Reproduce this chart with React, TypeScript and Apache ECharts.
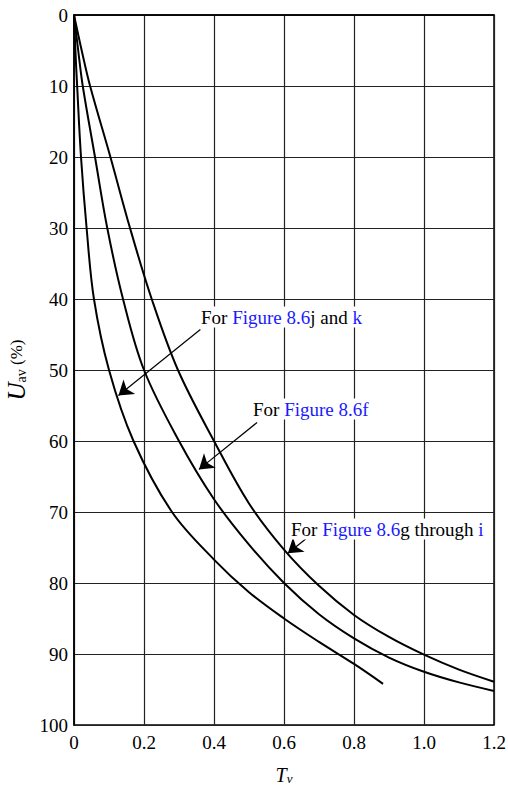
import React, { useEffect, useRef } from 'react';
import * as echarts from 'echarts';

// Curve "For Figure 8.6j and k" (T_v, U in %)
const tJK = [0, 0.004, 0.009, 0.02, 0.036, 0.057, 0.1, 0.17, 0.28, 0.4, 0.5, 0.6, 0.7, 0.8, 0.883];
const uJK = [0, 5, 10, 20, 30, 40, 50, 60, 70, 76.7, 81.3, 85.0, 88.3, 91.4, 94.2];

// Curve "For Figure 8.6f"
const tF = [0, 0.012, 0.025, 0.06, 0.095, 0.14, 0.2, 0.3, 0.4, 0.5, 0.6, 0.7, 0.8, 0.9, 1.0, 1.1, 1.2];
const uF = [0, 5, 10, 20, 30, 40, 50, 60, 68.2, 74.6, 80, 84.4, 87.8, 90.5, 92.5, 94, 95.2];

// Curve "For Figure 8.6g through i"
const tGI = [0, 0.022, 0.046, 0.104, 0.16, 0.222, 0.297, 0.4, 0.5, 0.6, 0.7, 0.8, 0.9, 1.0, 1.1, 1.2];
const uGI = [0, 5, 10, 20, 30, 40, 50, 60, 68.8, 75.3, 80.4, 84.5, 87.6, 90.1, 92.2, 93.9];

// Annotation arrows [T, U] tail -> head
const arrowTails = [[0.361, 44.3], [0.523, 57.4], [0.662, 73.8]];
const arrowHeads = [[0.127, 53.6], [0.357, 64.0], [0.611, 75.8]];

const xTickLabels = ['0', '0.2', '0.4', '0.6', '0.8', '1.0', '1.2'];
const yTickLabels = ['0', '10', '20', '30', '40', '50', '60', '70', '80', '90', '100'];

const SERIF = '"Liberation Serif", "Times New Roman", serif';
const BLUE = '#1a1aff';

export default function App() {
  const ref = useRef<HTMLDivElement>(null);

  useEffect(() => {
    const chart = echarts.init(ref.current!, null, { renderer: 'svg' });
    const pair = (t: number[], u: number[]) => t.map((v, i) => [v, u[i]]);
    const curve = (name: string, t: number[], u: number[], extra: any = {}) => ({
      name,
      type: 'line',
      data: pair(t, u),
      showSymbol: false,
      smooth: 0.35,
      silent: true,
      lineStyle: { color: '#000', width: 2 },
      z: 5,
      ...extra,
    });

    const kTok = { fill: '#000', fontFamily: SERIF, fontSize: 19 };
    const bTok = { fill: BLUE, fontFamily: SERIF, fontSize: 19 };
    const note = (x: number, y: number, text: string) => ({
      type: 'text',
      x,
      y,
      z: 20,
      style: {
        text,
        verticalAlign: 'middle',
        align: 'left',
        backgroundColor: '#fff',
        padding: [1, 2, 1, 2],
        rich: { k: kTok, b: bTok },
        fontFamily: SERIF,
        fontSize: 19,
        fill: '#000',
      },
    });

    chart.setOption({
      animation: false,
      backgroundColor: '#fff',
      grid: {
        left: 74,
        top: 15,
        width: 420,
        height: 710,
        outerBoundsMode: 'none',
        containLabel: false,
        show: true,
        borderColor: '#000',
        borderWidth: 1.5,
        backgroundColor: 'transparent',
      },
      xAxis: {
        type: 'value',
        min: 0,
        max: 1.2,
        interval: 0.2,
        name: '{t|T}{s|v}',
        nameLocation: 'middle',
        nameGap: 40,
        nameTextStyle: {
          rich: {
            t: { fontFamily: SERIF, fontSize: 20, fontStyle: 'italic', color: '#000' },
            s: { fontFamily: SERIF, fontSize: 13, fontStyle: 'italic', color: '#000', padding: [7, 0, 0, 0] },
          },
        },
        axisLine: { show: true, lineStyle: { color: '#000', width: 1.5 } },
        axisTick: { show: false },
        axisLabel: {
          margin: 8,
          fontFamily: SERIF,
          fontSize: 19,
          color: '#000',
          formatter: (v: number) => xTickLabels[Math.round(v / 0.2)] ?? '',
        },
        splitLine: { show: true, lineStyle: { color: '#222', width: 1.2 } },
      },
      yAxis: {
        type: 'value',
        inverse: true,
        min: 0,
        max: 100,
        interval: 10,
        name: '{u|U}{s|av}{p| (%)}',
        nameLocation: 'middle',
        nameGap: 45,
        nameTextStyle: {
          rich: {
            u: { fontFamily: SERIF, fontSize: 25, fontStyle: 'italic', color: '#000' },
            s: { fontFamily: SERIF, fontSize: 14, color: '#000', padding: [10, 0, 0, 0] },
            p: { fontFamily: SERIF, fontSize: 17, color: '#000' },
          },
        },
        axisLine: { show: true, lineStyle: { color: '#000', width: 1.5 } },
        axisTick: { show: false },
        axisLabel: {
          margin: 6,
          fontFamily: SERIF,
          fontSize: 19,
          color: '#000',
          formatter: (v: number) => yTickLabels[Math.round(v / 10)] ?? '',
        },
        splitLine: { show: true, lineStyle: { color: '#222', width: 1.2 } },
      },
      series: [
        curve('For Figure 8.6j and k', tJK, uJK, {
          markLine: {
            silent: true,
            symbol: ['none', 'arrow'],
            symbolSize: 14,
            label: { show: false },
            lineStyle: { color: '#000', width: 1.2, type: 'solid' },
            emphasis: { disabled: true },
            z: 15,
            data: arrowTails.map((a, i) => [{ coord: a }, { coord: arrowHeads[i] }]),
          },
        }),
        curve('For Figure 8.6f', tF, uF),
        curve('For Figure 8.6g through i', tGI, uGI),
      ],
      graphic: [
        note(199, 317, '{k|For }{b|Figure 8.6}{k|j and }{b|k}'),
        note(251, 409, '{k|For }{b|Figure 8.6f}'),
        note(289, 529, '{k|For }{b|Figure 8.6}{k|g through }{b|i}'),
      ],
    });
    return () => chart.dispose();
  }, []);

  return (
    <div
      ref={ref}
      style={{ position: 'fixed', left: 0, top: 0, width: 508, height: 789 }}
    />
  );
}
